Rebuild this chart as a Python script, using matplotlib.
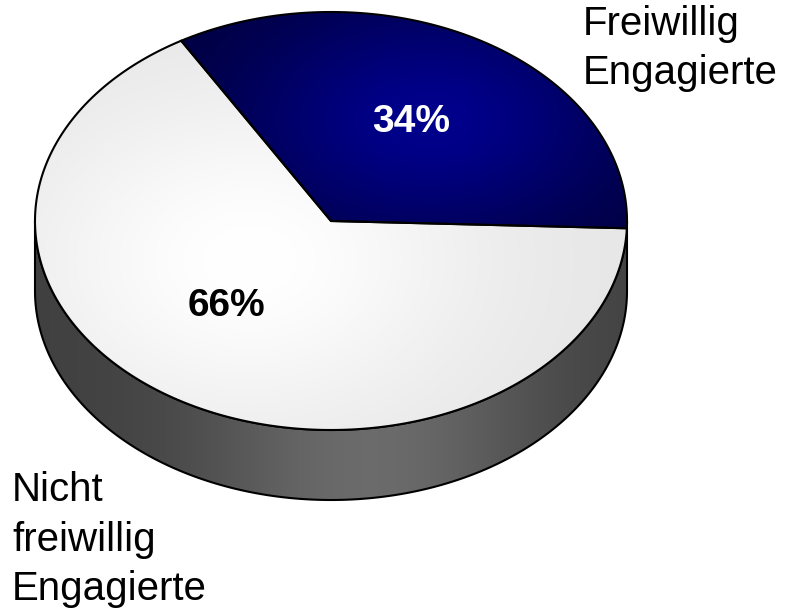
import numpy as np
import matplotlib.pyplot as plt
from matplotlib.patches import Polygon

labels = ["Freiwillig\nEngagierte", "Nicht\nfreiwillig\nEngagierte"]
shares = [34, 66]

W, H = 790, 612
cx, cy = 331, 221
rx, ry = 296, 209
depth = 70
start = -2.0

plt.rcParams['font.family'] = ['Liberation Sans', 'DejaVu Sans']


def rim(t0, t1, n=300, dy=0):
    t = np.radians(np.linspace(t0, t1, n))
    return np.column_stack([cx + rx * np.cos(t), cy - ry * np.sin(t) + dy])


def shaded(ax, rgb, clip, z):
    im = ax.imshow(rgb, extent=(0, W, H, 0), zorder=z, interpolation='bilinear')
    im.set_clip_path(clip)


fig = plt.figure(figsize=(7.9, 6.12), dpi=100)
ax = fig.add_axes([0, 0, 1, 1])

yy, xx = np.mgrid[0:H, 0:W] + 0.5

# side wall of the cake
side = Polygon(np.vstack([rim(180, 360), rim(360, 180, dy=depth)]),
               closed=True, fc='none', ec='black', lw=1.5, zorder=3)
ax.add_patch(side)
g = 0.25 + 0.17 * np.exp(-((xx - 370) / 170.) ** 2)
shaded(ax, np.dstack([g, g, g]), side, 2)

# top slices
angles = start + np.cumsum([0] + shares) * 3.6
blue = 0.23 + 0.32 * np.exp(-(((xx - 430) / 190.) ** 2 + ((yy - 120) / 120.) ** 2))
grey = 0.90 + 0.10 * np.exp(-(((xx - 250) / 230.) ** 2 + ((yy - 260) / 170.) ** 2))
fills = [np.dstack([0 * xx, 0 * xx, blue]), np.dstack([grey, grey, grey])]

for i in range(len(shares)):
    pts = np.vstack([[cx, cy], rim(angles[i], angles[i + 1])])
    wedge = Polygon(pts, closed=True, fc='none', ec='black', lw=1.5, zorder=5)
    ax.add_patch(wedge)
    shaded(ax, fills[i], wedge, 4)

ax.text(411, 122, f"{shares[0]}%", color='white', fontsize=28, fontweight='bold',
        ha='center', va='center', zorder=6)
ax.text(226, 306, f"{shares[1]}%", color='black', fontsize=28, fontweight='bold',
        ha='center', va='center', zorder=6)

# last line baselines
ax.text(583, 84, labels[0], fontsize=29, ha='left', va='baseline', linespacing=1.38)
ax.text(12, 600, labels[1], fontsize=29, ha='left', va='baseline', linespacing=1.38)

ax.set_xlim(0, W)
ax.set_ylim(H, 0)
ax.set_aspect('auto')
ax.axis('off')

fig.savefig('out.png', dpi=100)
